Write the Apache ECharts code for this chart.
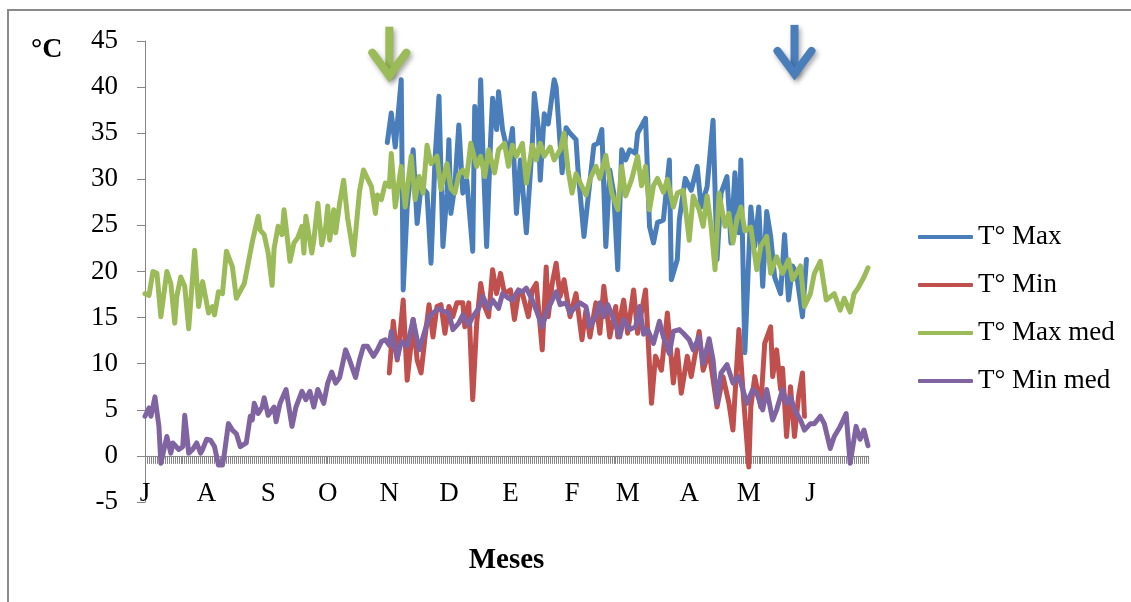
<!DOCTYPE html>
<html>
<head>
<meta charset="utf-8">
<script src="https://cdn.jsdelivr.net/npm/echarts@6/dist/echarts.min.js"></script>
<style>
  html, body { margin: 0; padding: 0; background: #fff; }
  #chart { width: 1131px; height: 602px; }
</style>
</head>
<body>
<div id="chart"></div>
<script>
// meses (jul -> jun), indice del dia donde empieza cada mes
var monthNames = ['J', 'A', 'S', 'O', 'N', 'D', 'E', 'F', 'M', 'A', 'M', 'J'];
var monthStart = [0, 31, 62, 92, 123, 153, 184, 215, 243, 274, 304, 335];
var nDays = 365;

var seriesNames = ['T\u00b0 Max', 'T\u00b0 Min', 'T\u00b0 Max med', 'T\u00b0 Min med'];
var seriesColors = ['#4A7EBB', '#C0504D', '#9BBB59', '#8064A2'];

// [dia, temperatura]
var tMax = [
  [122, 34.0], [124, 37.2], [126, 33.5], [129, 40.8], [130, 18.0], [132, 27.0], [135, 33.2], [137, 25.2],
  [139, 29.3], [142, 28.5], [144, 20.9], [146, 32.1], [148, 39.0], [150, 22.7], [152, 28.5], [153, 34.3],
  [154, 26.3], [156, 29.3], [158, 35.9], [160, 28.5], [162, 29.9], [165, 22.2], [166, 37.9], [168, 32.5],
  [169, 40.8], [170, 33.9], [172, 22.7], [174, 34.3], [175, 38.8], [177, 35.4], [178, 39.5], [180, 35.4],
  [183, 32.6], [185, 35.5], [187, 26.3], [189, 32.1], [192, 24.2], [195, 33.9], [196, 39.3], [198, 35.6],
  [199, 29.9], [201, 37.1], [203, 36.0], [206, 40.8], [207, 40.0], [210, 30.7], [212, 35.6], [214, 35.0],
  [217, 34.3], [218, 31.0], [221, 23.8], [223, 27.8], [226, 33.7], [228, 33.9], [230, 35.4], [232, 22.7],
  [234, 31.0], [236, 28.5], [238, 20.2], [240, 33.2], [242, 32.1], [244, 33.2], [247, 32.8], [248, 35.0],
  [252, 36.6], [254, 24.9], [256, 23.1], [258, 25.3], [261, 25.6], [264, 32.1], [265, 19.1], [268, 21.3],
  [269, 25.6], [272, 30.1], [275, 28.8], [278, 31.4], [280, 27.0], [283, 29.2], [286, 36.4], [288, 21.3],
  [290, 28.5], [293, 30.3], [295, 23.1], [297, 30.7], [299, 24.2], [300, 32.1], [302, 11.2], [305, 27.0],
  [307, 22.7], [309, 27.0], [311, 18.4], [313, 26.5], [315, 23.8], [317, 19.4], [320, 17.6], [322, 24.0],
  [324, 16.9], [326, 20.6], [328, 19.8], [331, 15.1], [333, 21.3]
];

var tMin = [
  [123, 9.0], [125, 14.6], [127, 10.4], [128, 12.2], [130, 16.9], [132, 8.2], [134, 12.2], [135, 14.8],
  [137, 10.4], [139, 9.0], [141, 12.9], [143, 16.4], [145, 12.9], [147, 16.2], [149, 16.4], [151, 13.3],
  [153, 16.2], [155, 15.1], [157, 16.6], [160, 16.6], [161, 14.0], [163, 16.6], [165, 6.1], [167, 14.4],
  [169, 18.7], [171, 16.2], [173, 15.1], [175, 20.2], [177, 17.6], [179, 19.8], [181, 17.6], [184, 18.0],
  [186, 14.8], [188, 17.6], [190, 17.6], [193, 15.1], [195, 18.0], [197, 18.7], [200, 11.5], [202, 20.5],
  [203, 15.1], [205, 18.7], [207, 20.9], [209, 17.3], [211, 19.1], [214, 15.1], [217, 17.6], [220, 12.6],
  [222, 15.8], [224, 12.9], [227, 16.6], [229, 13.3], [231, 18.4], [234, 12.9], [237, 16.2], [238, 12.9],
  [240, 15.8], [241, 16.9], [243, 13.3], [246, 18.0], [248, 13.3], [252, 18.0], [255, 5.7], [257, 10.8],
  [260, 9.3], [263, 15.5], [266, 7.9], [268, 11.5], [270, 6.8], [273, 10.8], [275, 8.6], [279, 13.5],
  [281, 9.3], [284, 11.3], [288, 5.3], [291, 8.6], [294, 5.7], [296, 2.8], [299, 13.7], [301, 7.2],
  [304, -1.2], [305, 5.3], [307, 8.6], [310, 5.3], [312, 12.2], [315, 14.0], [316, 8.6], [318, 11.5],
  [320, 7.2], [321, 9.5], [323, 2.1], [325, 7.5], [327, 2.1], [329, 6.4], [331, 9.0], [332, 4.3]
];

var tMaxMed = [
  [0, 17.6], [2, 17.4], [4, 20.0], [6, 19.8], [8, 15.1], [11, 20.0], [13, 18.7], [15, 14.4], [16, 17.3],
  [18, 19.4], [20, 18.4], [22, 13.8], [25, 22.3], [27, 16.2], [29, 18.9], [32, 15.5], [34, 16.2], [35, 15.3],
  [37, 17.8], [39, 17.6], [41, 22.2], [44, 20.5], [46, 17.1], [50, 18.7], [54, 23.2], [57, 26.0], [58, 24.5],
  [60, 24.0], [62, 22.0], [64, 18.5], [65, 22.5], [67, 24.9], [69, 24.0], [70, 26.7], [73, 21.1], [75, 23.1],
  [77, 23.7], [79, 24.9], [80, 22.0], [81, 26.0], [84, 22.0], [85, 23.4], [87, 27.4], [89, 22.9], [91, 24.9],
  [92, 27.1], [93, 23.4], [95, 26.7], [96, 24.2], [98, 27.4], [100, 29.9], [102, 25.8], [105, 21.8],
  [108, 28.7], [110, 31.0], [112, 30.1], [114, 29.2], [116, 26.3], [117, 28.3], [119, 27.8], [121, 29.6],
  [123, 29.2], [124, 32.8], [126, 27.0], [129, 31.4], [131, 27.0], [134, 32.5], [136, 27.8], [138, 30.3],
  [140, 28.5], [142, 33.7], [144, 31.7], [147, 32.5], [149, 28.9], [152, 31.7], [154, 29.0], [156, 28.5],
  [158, 30.5], [160, 31.0], [162, 30.3], [164, 33.9], [167, 31.4], [169, 32.5], [171, 30.3], [173, 33.2],
  [176, 30.7], [178, 33.2], [181, 33.9], [183, 31.4], [185, 33.7], [187, 32.5], [190, 33.9], [192, 29.6],
  [195, 33.7], [197, 32.1], [199, 33.9], [201, 32.5], [204, 33.5], [206, 32.1], [209, 33.2], [211, 35.0],
  [213, 31.0], [215, 28.5], [217, 30.6], [222, 28.3], [224, 30.0], [227, 31.4], [229, 30.1], [232, 32.6],
  [235, 28.5], [238, 26.7], [240, 31.4], [242, 28.2], [245, 30.0], [248, 32.5], [250, 29.3], [252, 31.4],
  [254, 26.7], [256, 29.3], [258, 30.1], [261, 28.6], [263, 30.0], [266, 27.0], [268, 28.5], [271, 28.8],
  [274, 23.4], [276, 28.2], [279, 26.7], [281, 24.9], [283, 28.2], [285, 24.9], [287, 20.2], [289, 28.5],
  [292, 24.9], [294, 26.3], [296, 23.1], [298, 25.6], [300, 27.0], [302, 24.4], [305, 24.8], [308, 20.2],
  [310, 22.7], [313, 23.8], [315, 19.8], [318, 21.6], [321, 19.8], [324, 21.3], [326, 19.1], [330, 20.6],
  [332, 16.2], [335, 17.6], [337, 19.8], [340, 21.1], [343, 16.9], [347, 17.6], [350, 15.8], [352, 17.1],
  [355, 15.6], [357, 17.6], [359, 18.2], [362, 19.4], [364, 20.4]
];

var tMinMed = [
  [0, 4.3], [2, 5.2], [3, 4.3], [5, 6.4], [7, 3.2], [8, -0.8], [11, 2.1], [13, 0.3], [14, 1.4], [17, 0.7],
  [19, 1.0], [20, 4.4], [22, 0.3], [24, 0.7], [26, 1.4], [28, 0.3], [29, 0.7], [31, 1.8], [33, 1.7],
  [35, 1.0], [37, -1.0], [39, -1.0], [40, 0.3], [42, 3.5], [44, 2.8], [46, 2.4], [48, 1.0], [51, 1.4],
  [53, 4.3], [54, 3.9], [55, 5.7], [57, 4.6], [59, 5.3], [60, 6.3], [62, 4.4], [65, 5.3], [66, 3.7],
  [68, 5.7], [71, 7.2], [74, 3.2], [76, 5.3], [79, 7.0], [81, 6.1], [83, 7.0], [85, 5.3], [87, 7.2],
  [90, 5.7], [92, 7.9], [94, 9.1], [96, 7.9], [98, 8.5], [101, 11.5], [103, 10.4], [106, 8.5], [108, 10.4],
  [110, 11.9], [112, 11.9], [115, 10.8], [117, 11.5], [119, 12.4], [121, 12.6], [123, 12.0], [124, 13.5],
  [127, 10.6], [129, 12.4], [132, 11.9], [135, 14.8], [138, 11.5], [140, 12.9], [143, 15.1], [145, 15.5],
  [148, 16.0], [150, 15.7], [153, 15.5], [155, 13.7], [158, 14.4], [160, 15.3], [163, 14.2], [165, 15.1],
  [168, 16.0], [170, 17.3], [173, 16.0], [175, 16.9], [178, 16.0], [180, 17.6], [183, 17.1], [185, 16.9],
  [188, 18.0], [190, 17.8], [192, 18.2], [195, 16.9], [197, 15.8], [200, 14.0], [202, 15.5], [205, 16.9],
  [207, 17.8], [209, 16.4], [212, 16.6], [214, 15.5], [217, 16.2], [219, 16.6], [222, 16.2], [224, 14.0],
  [227, 15.1], [229, 16.6], [231, 15.1], [233, 16.4], [236, 14.8], [239, 12.9], [241, 14.8], [244, 13.7],
  [247, 14.0], [249, 16.2], [251, 13.2], [253, 13.7], [256, 12.2], [259, 14.6], [261, 12.9], [264, 11.1],
  [266, 13.5], [269, 13.7], [271, 13.3], [274, 12.6], [276, 11.5], [279, 12.9], [281, 10.0], [284, 12.7],
  [286, 10.4], [288, 5.7], [290, 9.0], [293, 9.9], [296, 7.9], [299, 8.6], [301, 7.2], [303, 5.7],
  [306, 7.2], [308, 6.8], [311, 5.0], [313, 7.2], [316, 3.9], [318, 5.0], [321, 7.2], [323, 5.7],
  [325, 6.4], [327, 5.0], [330, 3.9], [332, 2.8], [335, 3.5], [337, 3.5], [340, 4.3], [342, 3.5],
  [345, 0.8], [347, 2.1], [350, 3.2], [353, 4.6], [355, -0.8], [358, 3.2], [360, 1.8], [362, 2.8], [364, 1.1]
];

// flechas: [dia, temperatura de la punta]
var arrowPoints = [[123, 40.8], [327, 41.0]];
var arrowColors = ['#9BBB59', '#4A7EBB'];

var yMin = -5, yMax = 45, yStep = 5;
var font = "'Liberation Serif', 'Times New Roman', serif";

var days = [];
for (var i = 0; i < nDays; i++) days.push(String(i));

var chart = echarts.init(document.getElementById('chart'));

var dataSets = [tMax, tMin, tMaxMed, tMinMed];
var series = dataSets.map(function (d, k) {
  return {
    name: seriesNames[k],
    type: 'line',
    data: d,
    symbol: 'none',
    showSymbol: false,
    color: seriesColors[k],
    lineStyle: { width: 5, color: seriesColors[k], join: 'round', cap: 'round' },
    emphasis: { disabled: true }
  };
});

var option = {
  animation: false,
  backgroundColor: '#fff',
  title: {
    text: '\u00b0C',
    left: 31,
    top: 36,
    padding: 0,
    textStyle: { fontSize: 28, fontWeight: 'bold', fontFamily: font, color: '#000' }
  },
  grid: { left: 145, right: 263, top: 41, bottom: 100, containLabel: false },
  legend: {
    orient: 'vertical',
    left: 913,
    top: 217,
    itemWidth: 55,
    itemHeight: 4,
    itemGap: 18,
    icon: 'roundRect',
    data: seriesNames,
    textStyle: { fontSize: 27, fontFamily: font, color: '#000', lineHeight: 30 }
  },
  xAxis: {
    type: 'category',
    data: days,
    boundaryGap: false,
    axisLine: { onZero: true, lineStyle: { color: '#868686', width: 1 } },
    axisTick: { show: true, interval: 0, length: 8, lineStyle: { color: '#868686' } },
    axisLabel: {
      margin: -22,
      fontSize: 27,
      fontFamily: font,
      color: '#000',
      interval: function (index) { return monthStart.indexOf(index) !== -1; },
      formatter: function (value, index) {
        var m = monthStart.indexOf(index);
        return m === -1 ? '' : monthNames[m];
      }
    },
    name: 'Meses',
    nameLocation: 'middle',
    nameGap: 44,
    nameMoveOverlap: false,
    nameTextStyle: { fontSize: 29, fontWeight: 'bold', fontFamily: font, color: '#000' },
    splitLine: { show: false }
  },
  yAxis: {
    type: 'value',
    min: yMin,
    max: yMax,
    interval: yStep,
    axisLine: { show: true, lineStyle: { color: '#868686', width: 1 } },
    axisTick: { show: true, length: 8, lineStyle: { color: '#868686' } },
    axisLabel: { margin: 27, fontSize: 27, fontFamily: font, color: '#000' },
    splitLine: { show: false }
  },
  series: series
};

chart.setOption(option);

// marco y flechas (posiciones sacadas de la escala del grafico)
var graphics = [{
  type: 'rect',
  shape: { x: 8, y: 10, width: 1400, height: 800 },
  style: { fill: 'none', stroke: '#8a8a8a', lineWidth: 2 },
  silent: true,
  z: -1
}];
arrowPoints.forEach(function (p, k) {
  var tip = chart.convertToPixel({ gridIndex: 0 }, p);
  var shadow = { shadowBlur: 5, shadowOffsetX: 2, shadowOffsetY: 3, shadowColor: 'rgba(0,0,0,0.35)' };
  graphics.push({
    type: 'polyline',
    shape: { points: [[tip[0], tip[1] - 4], [tip[0], tip[1] - 53]] },
    style: Object.assign({ stroke: arrowColors[k], lineWidth: 8, fill: 'none', lineCap: 'butt' }, shadow),
    z: 10
  });
  graphics.push({
    type: 'polyline',
    shape: { points: [[tip[0] - 17, tip[1] - 27], [tip[0], tip[1] - 4], [tip[0] + 17, tip[1] - 27]] },
    style: Object.assign({ stroke: arrowColors[k], lineWidth: 8, fill: 'none', lineCap: 'round', lineJoin: 'miter' }, shadow),
    z: 10
  });
});
chart.setOption({ graphic: graphics });
</script>
</body>
</html>
